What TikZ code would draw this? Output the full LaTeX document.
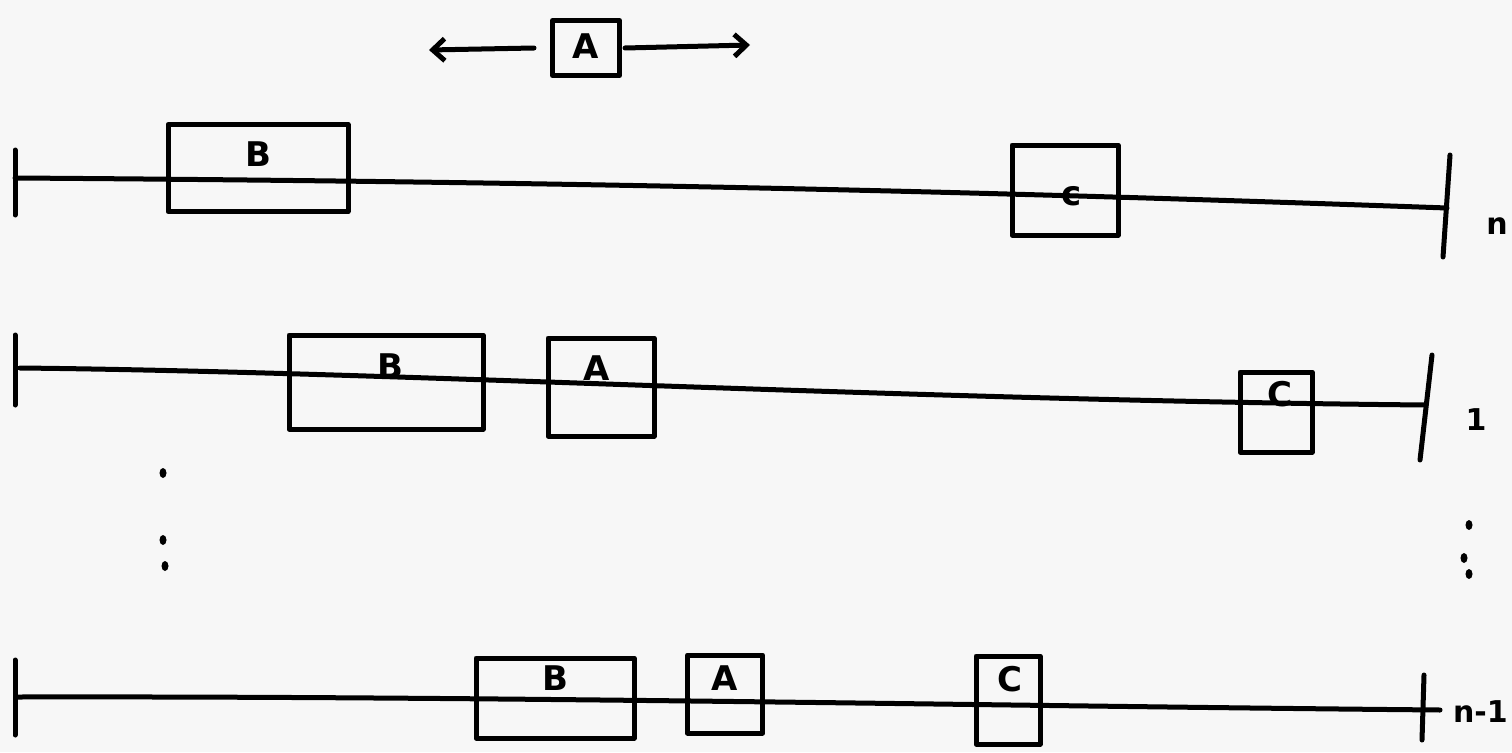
\documentclass[tikz,border=0pt]{standalone}
\usepackage{fontspec}
\setmainfont{DejaVu Sans}
\usetikzlibrary{arrows.meta,shapes.geometric}
\begin{document}
\begin{tikzpicture}[x=1pt,y=-1pt,
  ink/.style={line width=5pt,line cap=round,line join=round},
  box/.style={draw,ink,minimum width=#1,inner sep=0pt},
  lbl/.style={font=\fontsize{34}{36}\selectfont\bfseries,inner sep=0pt},
  side/.style={font=\fontsize{30}{32}\selectfont\bfseries,inner sep=0pt},
  dot/.style={ellipse,fill,inner sep=0pt,minimum width=7pt,minimum height=10pt}]
\fill[black!3] (0,0) rectangle (1512,752);
\useasboundingbox (0,0) rectangle (1512,752);
% top moving A
\node[box=67,minimum height=55] (A0) at (586,48) {};
\node[lbl] (A0l) at (586,46) {A};
\draw[ink,-{Straight Barb[length=12pt,width=22pt]}] (A0.west) ++(-16,0) coordinate (a0l) -- ++(-105,2);
\draw[ink,-{Straight Barb[length=12pt,width=22pt]}] (A0.east) ++(3,0) coordinate (a0r) -- ++(125,-3);
% row n
\coordinate (L1) at (15,178);
\coordinate (R1) at (1447,208);
\draw[ink] (15,150) -- (15,215);
\draw[ink] (1450,155) -- (1443,257);
\draw[ink] (L1) .. controls (600,182) and (1000,192) .. (R1);
\node[box=180,minimum height=87] (B1) at (258,168) {};
\node[lbl] (B1l) at (258,154) {B};
\node[box=106,minimum height=90] (C1) at (1065,190) {};
\node[lbl] (C1l) at (1072,196) {c};
\node[side,anchor=east] (n1) at (1508,226) {n};
% row 1
\coordinate (L2) at (20,368);
\coordinate (R2) at (1425,405);
\draw[ink] (15,335) -- (15,405);
\draw[ink] (1432,355) -- (1420,460);
\draw[ink] (L2) .. controls (400,372) and (900,400) .. (R2);
\node[box=194,minimum height=94] (B2) at (386,382) {};
\node[lbl] (B2l) at (390,366) {B};
\node[box=106,minimum height=98] (A2) at (601,387) {};
\node[lbl] (A2l) at (597,368) {A};
\node[box=72,minimum height=80] (C2) at (1276,412) {};
\node[lbl] (C2l) at (1280,394) {C};
\node[side] (one) at (1476,420) {1};
% dots
\node[dot] (d1) at (163,473) {};
\node[dot] (d2) at (163,540) {};
\node[dot] (d3) at (165,566) {};
\node[dot] (d4) at (1469,525) {};
\node[dot] (d5) at (1464,558) {};
\node[dot] (d6) at (1469,574) {};
% row n-1
\coordinate (L3) at (18,697);
\coordinate (R3) at (1440,710);
\draw[ink] (15,660) -- (15,735);
\draw[ink] (1424,675) -- (1422,740);
\draw[ink] (L3) .. controls (500,696) and (1000,706) .. (R3);
\node[box=158,minimum height=80] (B3) at (555,698) {};
\node[lbl] (B3l) at (555,678) {B};
\node[box=75,minimum height=78] (A3) at (725,694) {};
\node[lbl] (A3l) at (725,678) {A};
\node[box=64,minimum height=88] (C3) at (1008,700) {};
\node[lbl] (C3l) at (1010,679) {C};
\node[side,anchor=east] (nm1) at (1508,712) {n-1};
\end{tikzpicture}
\end{document}
